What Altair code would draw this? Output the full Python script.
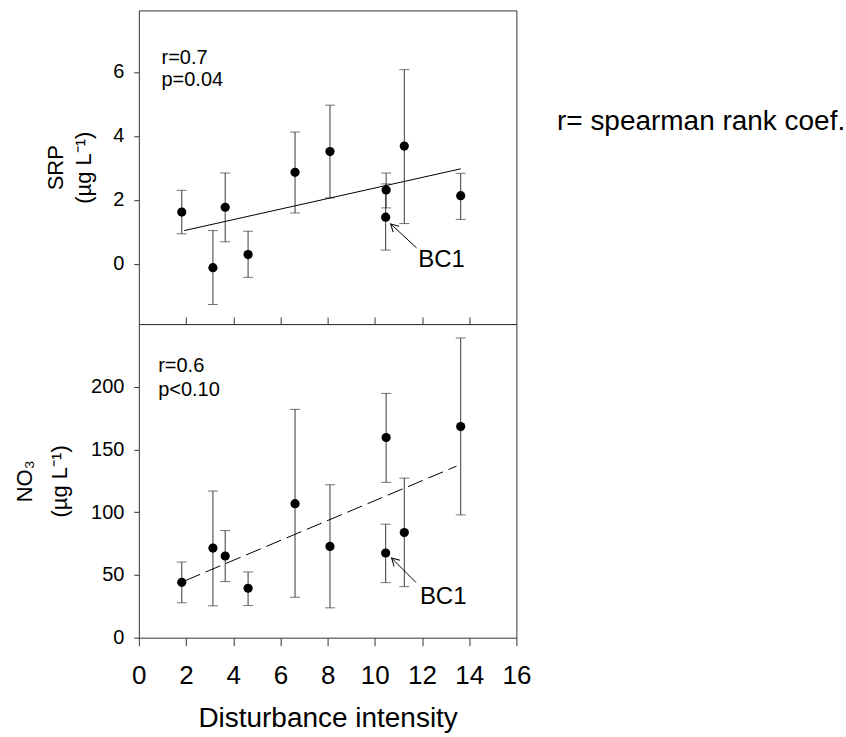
import altair as alt
import pandas as pd

# ---- data ----
site_x = [1.82, 3.14, 3.66, 4.63, 6.62, 8.10, 10.48, 10.46, 11.25, 13.64]

srp_mean = [1.62, -0.12, 1.77, 0.29, 2.86, 3.51, 2.31, 1.46, 3.68, 2.13]
srp_hi = [2.30, 1.04, 2.84, 1.02, 4.12, 4.96, 2.84, 2.50, 6.07, 2.83]
srp_lo = [0.94, -1.27, 0.69, -0.42, 1.59, 2.06, 1.75, 0.43, 1.26, 1.39]

no3_mean = [44.1, 71.4, 65.1, 39.4, 106.8, 72.7, 159.5, 67.5, 83.8, 168.3]
no3_hi = [60.3, 116.9, 85.4, 52.4, 182.0, 121.9, 194.7, 90.5, 127.2, 238.9]
no3_lo = [27.8, 25.4, 44.7, 25.6, 32.2, 23.8, 123.8, 43.9, 40.7, 97.9]

srp_fit_x = [1.92, 13.64]
srp_fit_y = [1.04, 2.97]
no3_fit_x = [1.97, 13.46]
no3_fit_y = [45.5, 136.7]

# annotations (data coordinates)
srp_arrow_x = [11.77, 10.67]
srp_arrow_y = [0.50, 1.25]
no3_arrow_x = [11.74, 10.71]
no3_arrow_y = [44.1, 63.5]

srp_notes = ["r=0.7", "p=0.04"]
srp_notes_x = [0.96, 0.96]
srp_notes_y = [6.42, 5.74]
no3_notes = ["r=0.6", "p<0.10"]
no3_notes_x = [0.82, 0.82]
no3_notes_y = [216.5, 197.6]

bc1_label = "BC1"
srp_bc1_xy = (11.84, 0.11)
no3_bc1_xy = (11.91, 32.2)

legend_text = "r= spearman rank coef."
legend_xy = (17.72, 4.44)

x_ticks = [0, 2, 4, 6, 8, 10, 12, 14, 16]
srp_ticks = [0, 2, 4, 6]
no3_ticks = [0, 50, 100, 150, 200]

FONT = "Liberation Sans"
W, H = 378, 314
BAR = "#3a3a3a"

xs = alt.Scale(domain=[0, 16], nice=False, zero=False)
ys_top = alt.Scale(domain=[-1.88, 7.92], nice=False, zero=False)
ys_bot = alt.Scale(domain=[0, 250], nice=False, zero=False)

x_axis_top = alt.Axis(values=x_ticks[1:-1], tickSize=7, offset=-7, labels=False,
                      domain=False, grid=False, title=None, tickColor="#333333")
x_axis_bot = alt.Axis(values=x_ticks, tickSize=8, labelFontSize=26, labelPadding=17,
                      title="Disturbance intensity", titleFontSize=28, titlePadding=16,
                      domain=False, grid=False, tickColor="#333333", labelFlush=False)
y_axis_top = alt.Axis(values=srp_ticks, tickSize=5, labelFontSize=20, labelPadding=10,
                      title=["SRP", "(µg L⁻¹)"], titleFontSize=22, titlePadding=17,
                      titleLineHeight=28, domain=False, grid=False, tickColor="#333333")
y_axis_bot = alt.Axis(values=no3_ticks, tickSize=5, labelFontSize=20, labelPadding=10,
                      title=["NO₃", "(µg L⁻¹)"], titleFontSize=22, titlePadding=19,
                      titleLineHeight=35, domain=False, grid=False, tickColor="#333333")


def panel(mean, lo, hi, fit_x, fit_y, ax, ay, notes, nx, ny, bc1, yscale, xaxis, yaxis,
          dashed, extra=None):
    df = pd.DataFrame({"x": site_x, "mean": mean, "lo": lo, "hi": hi})
    X = alt.X("x:Q", scale=xs, axis=xaxis)

    def Y(f):
        return alt.Y(f"{f}:Q", scale=yscale, axis=yaxis)

    base = alt.Chart(df)
    bars = base.mark_rule(color=BAR, strokeWidth=1).encode(x=X, y=Y("lo"), y2="hi:Q")
    cap_hi = base.mark_tick(orient="horizontal", size=10, thickness=1, color=BAR).encode(x=X, y=Y("hi"))
    cap_lo = base.mark_tick(orient="horizontal", size=10, thickness=1, color=BAR).encode(x=X, y=Y("lo"))
    pts = base.mark_circle(size=85, color="black", opacity=1).encode(x=X, y=Y("mean"))

    fit_df = pd.DataFrame({"x": fit_x, "mean": fit_y})
    line_kw = dict(color="black", strokeWidth=1)
    if dashed:
        line_kw["strokeDash"] = [16, 6]
    fit = alt.Chart(fit_df).mark_line(**line_kw).encode(x=X, y=Y("mean"))

    arr_df = pd.DataFrame({"x": ax, "mean": ay, "o": [0, 1]})
    arrow = alt.Chart(arr_df).mark_line(color="black", strokeWidth=1).encode(
        x=X, y=Y("mean"), order="o:O")
    head_df = arr_df.iloc[[1]]
    head = alt.Chart(head_df).mark_point(
        shape="M-1,-0.55L0,0L-1,0.55", filled=False, color="black", strokeWidth=1,
        size=230, opacity=1, angle=224).encode(x=X, y=Y("mean"))

    note_df = pd.DataFrame({"x": nx, "mean": ny, "t": notes})
    note = alt.Chart(note_df).mark_text(align="left", baseline="middle", fontSize=20,
                                        font=FONT, color="black").encode(
        x=X, y=Y("mean"), text="t:N")

    bc_df = pd.DataFrame({"x": [bc1[0]], "mean": [bc1[1]], "t": [bc1_label]})
    bc = alt.Chart(bc_df).mark_text(align="left", baseline="middle", fontSize=24,
                                    font=FONT, color="black").encode(
        x=X, y=Y("mean"), text="t:N")

    layers = [bars, cap_hi, cap_lo, fit, arrow, head, pts, note, bc]
    if extra is not None:
        leg_df = pd.DataFrame({"x": [extra[0]], "mean": [extra[1]], "t": [legend_text]})
        leg = alt.Chart(leg_df).mark_text(align="left", baseline="middle", fontSize=28,
                                          font=FONT, color="black", clip=False).encode(
            x=X, y=Y("mean"), text="t:N")
        layers.append(leg)
    return alt.layer(*layers).properties(width=W, height=H)


top = panel(srp_mean, srp_lo, srp_hi, srp_fit_x, srp_fit_y, srp_arrow_x, srp_arrow_y,
            srp_notes, srp_notes_x, srp_notes_y, srp_bc1_xy, ys_top, x_axis_top, y_axis_top,
            dashed=False, extra=legend_xy)
bottom = panel(no3_mean, no3_lo, no3_hi, no3_fit_x, no3_fit_y, no3_arrow_x, no3_arrow_y,
               no3_notes, no3_notes_x, no3_notes_y, no3_bc1_xy, ys_bot, x_axis_bot, y_axis_bot,
               dashed=True)

chart = alt.vconcat(top, bottom, spacing=0, bounds="flush").properties(
    padding={"left": 13, "top": 9, "right": 0, "bottom": 0},
    background="white",
).configure_view(stroke="#333333", strokeWidth=1).configure_axis(
    labelFont=FONT, titleFont=FONT, labelColor="black", titleColor="black",
    titleFontWeight="normal",
)

chart.save("out.html", embed_options={"renderer": "svg", "actions": False})
